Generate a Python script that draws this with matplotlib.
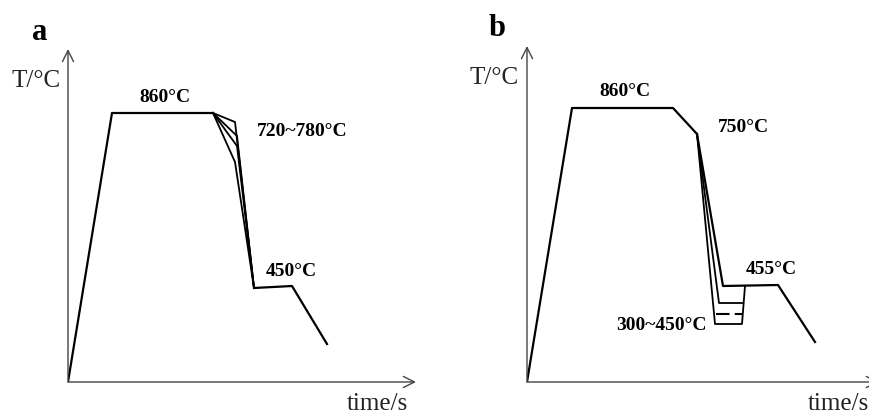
import matplotlib
matplotlib.use('Agg')
import matplotlib.pyplot as plt

plt.rcParams.update({
    'font.family': ['Liberation Serif', 'DejaVu Serif'],
})

# schematic heat-treatment paths, units = px from the axis origin
# panel a: intercritical annealing 720~780, then 450 hold
a_heat_t = [0, 44, 145]
a_heat_T = [0, 269, 269]
a_branch_t = [167, 169, 169, 167]      # corners of the four slow-cooling branches
a_branch_T = [260, 246, 236, 220]
a_tail_t = [186, 224, 259]
a_tail_T = [94, 96, 38]

# panel b: 860 soak, slow cool to 750, quench to 300~450, reheat to 455
b_heat_t = [0, 45, 146, 170]
b_heat_T = [0, 274, 274, 248]
b_top_t = [196, 251, 288]              # quench directly to 455
b_top_T = [96, 97, 40]
b_mid_t = [192, 215]
b_mid_T = [79, 79]
b_dash_t = [189, 215]
b_dash_T = [68, 68]
b_low_t = [188, 215, 218]
b_low_T = [58, 58, 96]

W, H = 869, 414
fig = plt.figure(figsize=(W / 100, H / 100), dpi=100)

ax_a = fig.add_axes([68 / W, 31 / H, 348 / W, 333 / H])
ax_a.set_xlim(0, 348)
ax_a.set_ylim(0, 333)
ax_b = fig.add_axes([527 / W, 31 / H, 342 / W, 336 / H])
ax_b.set_xlim(0, 342)
ax_b.set_ylim(0, 336)

lw = 1.6
thin = 1.3
arrow = dict(arrowstyle='->', lw=1.0, color='#444444', mutation_scale=20,
             shrinkA=0, shrinkB=0)

for ax, xtip, ytip in [(ax_a, 348, 333), (ax_b, 352, 336)]:
    ax.axis('off')
    ax.annotate('', xy=(xtip, 0), xytext=(0, 0), arrowprops=arrow,
                annotation_clip=False)
    ax.annotate('', xy=(0, ytip), xytext=(0, 0), arrowprops=arrow,
                annotation_clip=False)

# panel a curves
ax_a.plot(a_heat_t, a_heat_T, color='k', lw=lw)
for bt, bT in zip(a_branch_t, a_branch_T):
    ax_a.plot([a_heat_t[-1], bt, a_tail_t[0]], [a_heat_T[-1], bT, a_tail_T[0]],
              color='k', lw=thin)
ax_a.plot(a_tail_t, a_tail_T, color='k', lw=lw)

# panel b curves
ax_b.plot(b_heat_t, b_heat_T, color='k', lw=lw)
ax_b.plot([b_heat_t[-1]] + b_top_t, [b_heat_T[-1]] + b_top_T, color='k', lw=lw)
ax_b.plot([b_heat_t[-1]] + b_mid_t, [b_heat_T[-1]] + b_mid_T, color='k', lw=thin)
ax_b.plot(b_dash_t, b_dash_T, color='k', lw=1.5, ls=(0, (6.5, 2.5)),
          dash_capstyle='butt')
ax_b.plot([b_heat_t[-1]] + b_low_t, [b_heat_T[-1]] + b_low_T, color='k', lw=thin)

bold = dict(fontsize=14, fontweight='bold', ha='center', va='center')
lab = dict(fontsize=18, ha='center', va='center', color='#222222')
letter = dict(fontsize=22, fontweight='bold', ha='center', va='center')

ax_a.text(-28, 351, 'a', **letter)
ax_a.text(-32, 302, 'T/°C', **lab)
ax_a.text(97, 286, '860°C', **bold)
ax_a.text(234, 252, '720~780°C', **bold)
ax_a.text(223, 111, '450°C', **bold)
ax_a.text(309, -21, 'time/s', **lab)

ax_b.text(-30, 355, 'b', **letter)
ax_b.text(-33, 305, 'T/°C', **lab)
ax_b.text(98, 291, '860°C', **bold)
ax_b.text(216, 255, '750°C', **bold)
ax_b.text(244, 113, '455°C', **bold)
ax_b.text(134, 57, '300~450°C', **bold)
ax_b.text(281, -21, 'time/s', fontsize=18, ha='left', va='center', color='#222222')

fig.savefig('out.png', dpi=100)
